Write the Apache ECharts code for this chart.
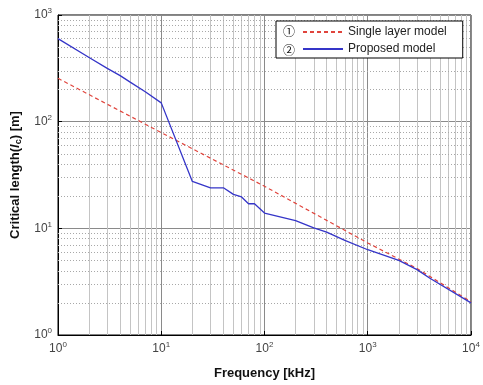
<!DOCTYPE html>
<html>
<head>
<meta charset="utf-8">
<script src="https://cdn.jsdelivr.net/npm/echarts@6/dist/echarts.min.js"></script>
<style>
  html, body { margin: 0; padding: 0; background: #fff; }
  #chart { width: 483px; height: 385px; }
</style>
</head>
<body>
<div id="chart"></div>
<script>
// frequency [kHz] and critical length [m]
const freqSingle = [1, 10, 100, 1000, 3000, 10000];
const lenSingle = [255, 79, 24.8, 7.3, 4.2, 2.05];

const freqProposed = [1, 2, 3, 4, 5, 7, 10, 20, 30, 40, 50, 60, 70, 80, 100, 200, 300, 400, 600, 1000, 2000, 3000, 4000, 10000];
const lenProposed = [600, 400, 316, 270, 235, 191, 150, 27.5, 24, 24, 20.8, 19.7, 17, 17, 13.9, 11.8, 10.1, 9.2, 7.7, 6.3, 5.0, 4.1, 3.4, 2.0];

const seriesNames = ["Single layer model", "Proposed model"];
const xTicks = [1, 10, 100, 1000, 10000];
const yTicks = [1, 10, 100, 1000];

// minor grid positions (2..9 of each decade)
const minorX = [];
for (let d = 1; d < 10000; d *= 10) for (let k = 2; k <= 9; k++) minorX.push(d * k);
const minorY = [];
for (let d = 1; d < 1000; d *= 10) for (let k = 2; k <= 9; k++) minorY.push(d * k);

const FONT = "Liberation Sans";

const pow10 = (v) => {
  const e = Math.round(Math.log10(v));
  return "{b|10}{e|" + e + "}";
};
const powRich = {
  b: { fontSize: 12, color: "#444", fontFamily: FONT, lineHeight: 16 },
  e: { fontSize: 8, color: "#444", fontFamily: FONT, verticalAlign: "top", lineHeight: 8 },
};

const chart = echarts.init(document.getElementById("chart"));

const option = {
  animation: false,
  grid: {
    left: 58,
    right: 12,
    top: 15,
    bottom: 46,
    show: true,
    borderColor: "#000",
    borderWidth: 1,
  },
  legend: {
    orient: "vertical",
    left: 276,
    top: 21,
    padding: [5, 16, 3, 26],
    itemWidth: 40,
    itemHeight: 14,
    itemGap: 5,
    backgroundColor: "#fff",
    borderColor: "#000",
    borderWidth: 1,
    itemStyle: { color: "transparent", borderWidth: 0 },
    textStyle: { fontFamily: FONT, fontSize: 12, color: "#222" },
    data: seriesNames,
  },
  graphic: [
    {
      type: "text",
      left: 283,
      top: 25,
      z: 200,
      style: { text: "\u2460", font: "12px 'Noto Sans CJK JP'", fill: "#111" },
    },
    {
      type: "text",
      left: 283,
      top: 44,
      z: 200,
      style: { text: "\u2461", font: "12px 'Noto Sans CJK JP'", fill: "#111" },
    },
  ],
  xAxis: {
    type: "log",
    logBase: 10,
    min: xTicks[0],
    max: xTicks[xTicks.length - 1],
    name: "Frequency [kHz]",
    nameLocation: "middle",
    nameGap: 32,
    nameTextStyle: { fontFamily: FONT, fontSize: 13, fontWeight: "bold", color: "#111" },
    axisLine: { show: true, lineStyle: { color: "#000" } },
    axisTick: { show: true, inside: true, length: 4, lineStyle: { color: "#000" } },
    axisLabel: { formatter: pow10, rich: powRich, margin: 6 },
    splitLine: { show: true, lineStyle: { color: "#8a8a8a", width: 1 } },
  },
  yAxis: {
    type: "log",
    logBase: 10,
    min: yTicks[0],
    max: yTicks[yTicks.length - 1],
    name: "{t|Critical length(}{i|l}{s|c}{t|) [m]}",
    nameLocation: "middle",
    nameGap: 34,
    nameTextStyle: {
      rich: {
        t: { fontFamily: FONT, fontSize: 13, fontWeight: "bold", color: "#111", lineHeight: 16 },
        i: { fontFamily: FONT, fontSize: 13, fontWeight: "bold", fontStyle: "italic", color: "#111", lineHeight: 16 },
        s: { fontFamily: FONT, fontSize: 9, fontWeight: "bold", color: "#111", verticalAlign: "bottom", lineHeight: 9 },
      },
    },
    axisLine: { show: true, lineStyle: { color: "#000" } },
    axisTick: { show: true, inside: true, length: 4, lineStyle: { color: "#000" } },
    axisLabel: { formatter: pow10, rich: powRich, margin: 6 },
    splitLine: { show: true, lineStyle: { color: "#8a8a8a", width: 1 } },
  },
  series: [
    {
      name: seriesNames[0],
      type: "line",
      data: freqSingle.map((f, i) => [f, lenSingle[i]]),
      symbol: "none",
      z: 3,
      lineStyle: { color: "#e0443c", width: 1.2, type: [4, 3] },
      itemStyle: { color: "#e0443c" },
      markLine: {
        silent: true,
        symbol: "none",
        label: { show: false },
        z: 1,
        animation: false,
        data: [
          ...minorX.map((v) => ({ xAxis: v, lineStyle: { color: "#c4c4c4", width: 1, type: "solid" } })),
          ...minorY.map((v) => ({ yAxis: v, lineStyle: { color: "#a8a8a8", width: 1, type: [1, 2] } })),
        ],
      },
    },
    {
      name: seriesNames[1],
      type: "line",
      data: freqProposed.map((f, i) => [f, lenProposed[i]]),
      symbol: "none",
      z: 4,
      lineStyle: { color: "#3535c8", width: 1.3 },
      itemStyle: { color: "#3535c8" },
    },
  ],
};

chart.setOption(option);
</script>
</body>
</html>
